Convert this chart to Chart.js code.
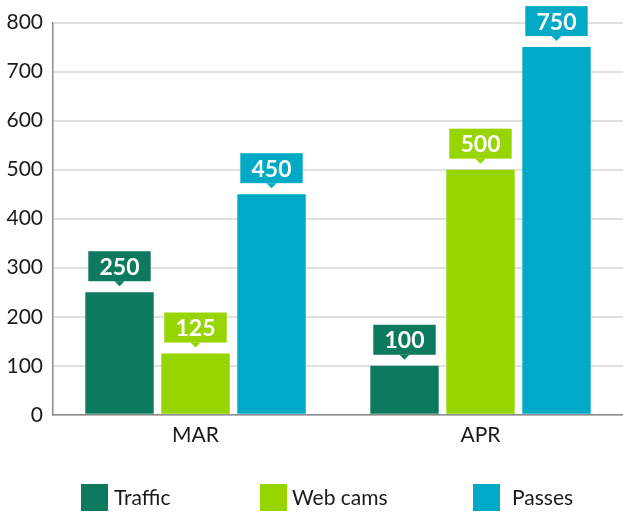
<!DOCTYPE html>
<html>
<head>
<meta charset="utf-8">
<script src="https://cdn.jsdelivr.net/npm/chart.js@4/dist/chart.umd.min.js"></script>
<style>
  html, body { margin: 0; padding: 0; background: #fff; }
  #wrap { width: 623px; height: 512px; }
</style>
</head>
<body>
<div id="wrap"><canvas id="chart"></canvas></div>
<script>
var months = ["MAR", "APR"]
var traffic = [250, 100]
var webcams = [125, 500]
var passes = [450, 750]
var seriesNames = ["Traffic", "Web cams", "Passes"]
var colors = ["#0d7a5f", "#96d500", "#00aac7"]

// boxed value labels with a little pointer under them
var valueBoxes = {
    id: "valueBoxes",
    afterDatasetsDraw: function(chart) {
        var ctx = chart.ctx
        ctx.save()
        ctx.font = "bold 23px Lato"
        ctx.textAlign = "center"
        ctx.textBaseline = "middle"
        chart.data.datasets.forEach(function(ds, i) {
            var meta = chart.getDatasetMeta(i)
            meta.data.forEach(function(bar, j) {
                var w = bar.width - 6
                var h = 30
                var bottom = bar.y - 11
                var top = bottom - h
                ctx.fillStyle = ds.backgroundColor
                ctx.fillRect(bar.x - w / 2, top, w, h)
                ctx.beginPath()
                ctx.moveTo(bar.x - 5, bottom)
                ctx.lineTo(bar.x + 5, bottom)
                ctx.lineTo(bar.x, bottom + 5)
                ctx.closePath()
                ctx.fill()
                ctx.fillStyle = "#fff"
                ctx.fillText(ds.data[j], bar.x, top + h / 2 + 1)
            })
        })
        ctx.restore()
    }
}

// legend drawn at the bottom, spaced like the original
var bottomLegend = {
    id: "bottomLegend",
    afterDraw: function(chart) {
        var ctx = chart.ctx
        var boxX = [81, 260, 473]
        var textX = [114, 292, 512]
        ctx.save()
        ctx.font = "21px Lato"
        ctx.textBaseline = "middle"
        ctx.textAlign = "left"
        chart.data.datasets.forEach(function(ds, i) {
            ctx.fillStyle = ds.backgroundColor
            ctx.fillRect(boxX[i], 484, 27, 27)
            ctx.fillStyle = "#1a1a1a"
            ctx.fillText(ds.label, textX[i], 498)
        })
        ctx.restore()
    }
}

var mychart = document.getElementById("chart").getContext("2d")
var chart = new Chart(mychart, {
    type: "bar",
    data: {
        labels: months,
        datasets: [
            { label: seriesNames[0], data: traffic, backgroundColor: colors[0] },
            { label: seriesNames[1], data: webcams, backgroundColor: colors[1] },
            { label: seriesNames[2], data: passes, backgroundColor: colors[2] }
        ]
    },
    options: {
        responsive: true,
        maintainAspectRatio: false,
        animation: false,
        layout: { padding: { top: 11, left: 0, right: 0, bottom: 56 } },
        plugins: {
            legend: { display: false },
            tooltip: { enabled: false }
        },
        datasets: { bar: { categoryPercentage: 0.8, barPercentage: 0.9 } },
        scales: {
            x: {
                grid: { display: false, drawTicks: false },
                border: { color: "#8c8c8c", width: 1.5 },
                ticks: { color: "#1a1a1a", font: { family: "Lato", size: 21 }, padding: 8 }
            },
            y: {
                min: 0,
                max: 800,
                afterFit: function(s) { s.width = 53 },
                ticks: { stepSize: 100, color: "#1a1a1a", font: { family: "Lato", size: 21 }, padding: 10 },
                grid: { color: "#e0e0e0", lineWidth: 2, drawTicks: false },
                border: { color: "#8c8c8c", width: 1.5 }
            }
        }
    },
    plugins: [valueBoxes, bottomLegend]
})
</script>
</body>
</html>
